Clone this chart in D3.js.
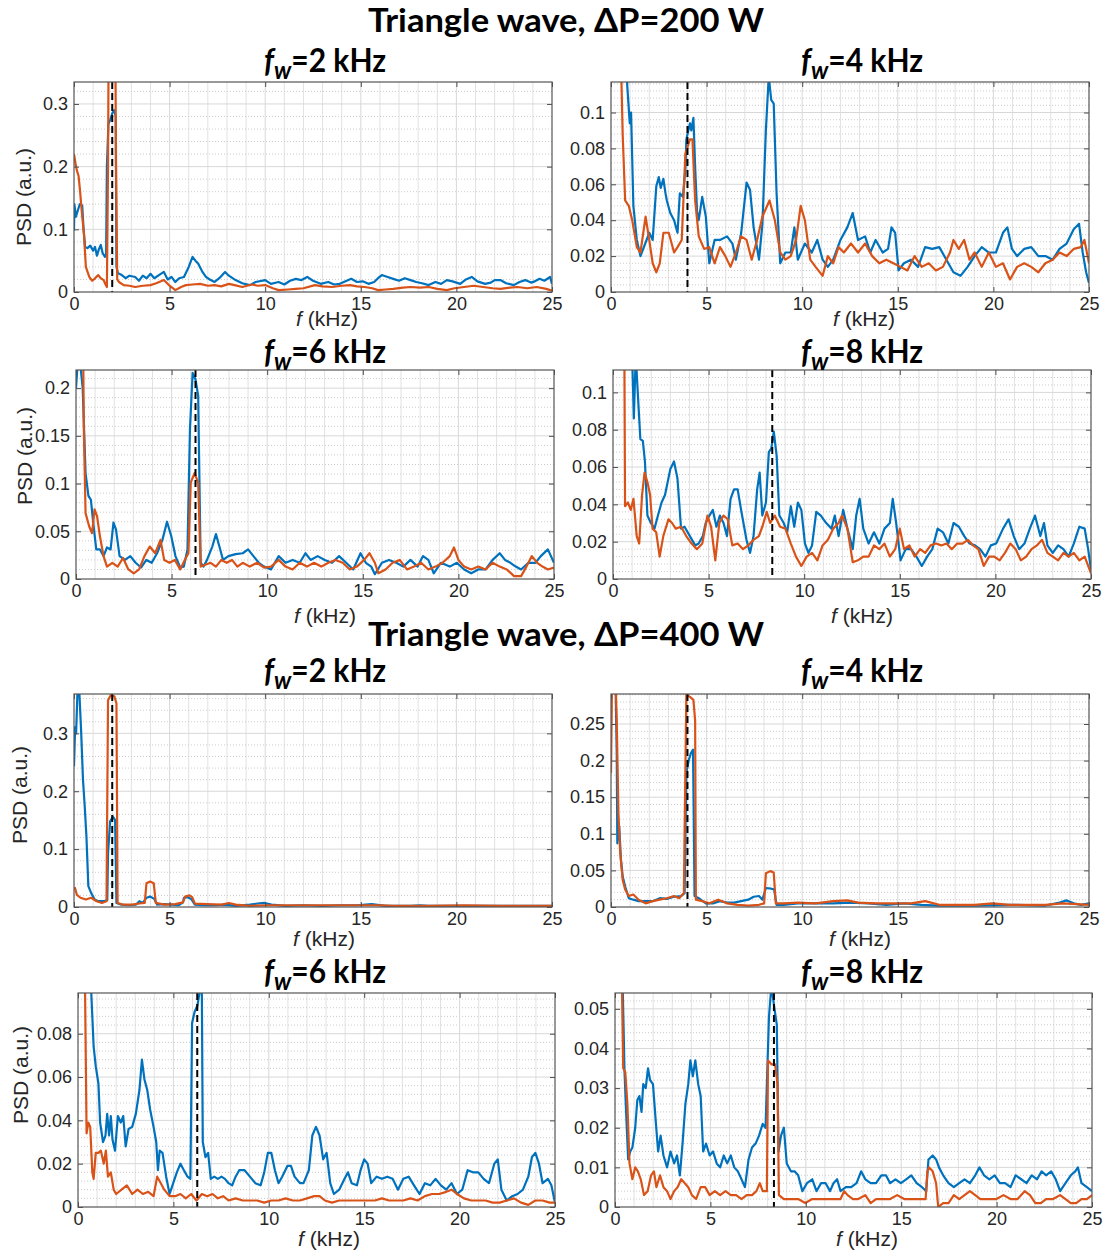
<!DOCTYPE html>
<html>
<head>
<meta charset="utf-8">
<script src="https://cdn.jsdelivr.net/npm/d3@7"></script>
<style>
  body { margin: 0; background: #fff; }
  svg { display: block; }
  .tick text { font-family: "Liberation Sans", Arial, sans-serif; font-size: 18px; fill: #262626; }
  .tick line { stroke: #4d4d4d; }
</style>
</head>
<body>
<div id="chart"></div>
<script>
// ---- data (f in kHz, PSD in a.u.) ----

var xTicks = [0, 5, 10, 15, 20, 25];
var groupTitles = ["Triangle wave, \u0394P=200 W", "Triangle wave, \u0394P=400 W"];
var fwLabels = ["2", "4", "6", "8"];
var fwMarks = [2, 4, 6.25, 8.33];

var yMax200 = [0.335, 0.117, 0.219, 0.112];
var yMax400 = [0.368, 0.291, 0.0988, 0.054];
var yTicks200 = [[0, 0.1, 0.2, 0.3], [0, 0.02, 0.04, 0.06, 0.08, 0.1], [0, 0.05, 0.1, 0.15, 0.2], [0, 0.02, 0.04, 0.06, 0.08, 0.1]];
var yTicks400 = [[0, 0.1, 0.2, 0.3], [0, 0.05, 0.1, 0.15, 0.2, 0.25], [0, 0.02, 0.04, 0.06, 0.08], [0, 0.01, 0.02, 0.03, 0.04, 0.05]];

// dP = 200 W
var blue200_2 = [[0,0.098],[0.02,0.14],[0.1,0.12],[0.2,0.13],[0.3,0.14],[0.43,0.138],[0.5,0.1],[0.58,0.072],[0.7,0.07],[0.85,0.074],[1.0,0.066],[1.1,0.072],[1.2,0.058],[1.3,0.068],[1.4,0.075],[1.5,0.062],[1.62,0.056],[1.68,0.06],[1.72,0.2],[1.8,0.268],[1.9,0.275],[2.0,0.285],[2.1,0.29],[2.18,0.28],[2.22,0.04],[2.3,0.03],[2.5,0.027],[2.7,0.022],[2.9,0.026],[3.2,0.024],[3.4,0.018],[3.6,0.026],[3.8,0.022],[4.0,0.029],[4.2,0.022],[4.5,0.028],[4.7,0.032],[4.9,0.02],[5.1,0.024],[5.3,0.016],[5.5,0.022],[5.75,0.024],[6.0,0.04],[6.2,0.056],[6.35,0.05],[6.5,0.045],[6.7,0.033],[6.9,0.024],[7.1,0.02],[7.35,0.016],[7.6,0.022],[7.9,0.032],[8.1,0.026],[8.45,0.019],[8.8,0.014],[9.2,0.011],[9.5,0.016],[10,0.019],[10.3,0.013],[10.7,0.016],[11.0,0.012],[11.3,0.018],[11.6,0.021],[11.9,0.019],[12.2,0.024],[12.5,0.018],[12.9,0.013],[13.3,0.016],[13.6,0.012],[13.9,0.013],[14.2,0.017],[14.5,0.021],[14.8,0.016],[15.1,0.017],[15.4,0.013],[15.7,0.016],[15.9,0.022],[16.1,0.027],[16.4,0.024],[16.7,0.021],[17.0,0.018],[17.3,0.022],[17.6,0.019],[17.9,0.016],[18.2,0.014],[18.55,0.011],[18.9,0.016],[19.2,0.013],[19.5,0.019],[19.8,0.017],[20.2,0.013],[20.5,0.02],[20.8,0.024],[21.1,0.017],[21.5,0.013],[21.8,0.015],[22.0,0.019],[22.3,0.019],[22.6,0.014],[23.0,0.011],[23.3,0.016],[23.6,0.019],[23.9,0.015],[24.1,0.017],[24.35,0.021],[24.6,0.018],[24.8,0.022],[24.9,0.024],[25,0.013]];
var orange200_2 = [[0,0.22],[0.08,0.205],[0.15,0.194],[0.24,0.185],[0.32,0.16],[0.4,0.13],[0.52,0.093],[0.62,0.04],[0.8,0.024],[0.95,0.018],[1.08,0.021],[1.2,0.025],[1.27,0.027],[1.4,0.022],[1.55,0.019],[1.65,0.012],[1.72,0.008],[1.78,0.2],[1.82,0.45],[2.15,0.45],[2.2,0.2],[2.26,0.02],[2.35,0.016],[2.6,0.011],[2.9,0.01],[3.2,0.008],[3.6,0.01],[4.0,0.011],[4.3,0.014],[4.7,0.019],[5.0,0.01],[5.3,0.003],[5.6,0.008],[5.85,0.011],[6.2,0.012],[6.6,0.013],[7.0,0.01],[7.35,0.011],[7.7,0.009],[8.1,0.013],[8.4,0.011],[8.8,0.008],[9.3,0.012],[9.6,0.01],[10,0.011],[10.4,0.006],[10.7,0.003],[11.2,0.004],[11.6,0.005],[12.0,0.006],[12.6,0.011],[13.0,0.009],[13.5,0.008],[14.0,0.01],[14.45,0.011],[14.8,0.009],[15.2,0.008],[15.6,0.006],[15.9,0.003],[16.3,0.004],[16.7,0.005],[17.2,0.007],[17.6,0.008],[18.1,0.007],[18.55,0.008],[19.0,0.005],[19.5,0.003],[19.9,0.006],[20.4,0.008],[20.9,0.01],[21.4,0.008],[21.9,0.006],[22.3,0.005],[22.8,0.007],[23.2,0.008],[23.7,0.006],[24.2,0.008],[24.7,0.005],[25,0.002]];

var blue200_4 = [[0,0.3],[0.5,0.2],[0.8,0.13],[0.85,0.115],[0.98,0.094],[1.05,0.1],[1.17,0.048],[1.35,0.029],[1.54,0.02],[1.72,0.025],[2.0,0.033],[2.18,0.029],[2.37,0.059],[2.5,0.064],[2.6,0.058],[2.74,0.063],[2.85,0.055],[2.92,0.051],[3.1,0.044],[3.3,0.04],[3.48,0.033],[3.6,0.055],[3.76,0.053],[3.9,0.07],[3.94,0.085],[4.13,0.094],[4.2,0.09],[4.31,0.097],[4.4,0.07],[4.5,0.045],[4.59,0.04],[4.77,0.053],[4.96,0.042],[5.14,0.016],[5.42,0.029],[5.7,0.029],[6.07,0.031],[6.35,0.027],[6.53,0.018],[6.81,0.033],[7.09,0.061],[7.27,0.057],[7.46,0.036],[7.74,0.018],[7.92,0.038],[8.1,0.09],[8.25,0.12],[8.38,0.107],[8.51,0.105],[8.66,0.055],[8.85,0.016],[9.12,0.022],[9.4,0.022],[9.59,0.036],[9.77,0.018],[10.14,0.027],[10.5,0.022],[10.79,0.029],[11.07,0.018],[11.34,0.014],[11.62,0.018],[12.0,0.029],[12.36,0.036],[12.64,0.044],[12.92,0.029],[13.29,0.031],[13.56,0.022],[13.84,0.029],[14.21,0.022],[14.49,0.024],[14.67,0.036],[14.86,0.033],[15.04,0.012],[15.32,0.016],[15.69,0.018],[16.06,0.014],[16.43,0.025],[16.8,0.024],[17.17,0.025],[17.54,0.018],[17.91,0.011],[18.28,0.009],[18.65,0.014],[19.02,0.02],[19.39,0.025],[19.76,0.022],[20.13,0.022],[20.5,0.033],[20.73,0.036],[20.97,0.024],[21.24,0.02],[21.61,0.024],[21.98,0.025],[22.35,0.02],[22.72,0.02],[23.1,0.018],[23.46,0.024],[23.83,0.027],[24.2,0.035],[24.48,0.038],[24.67,0.022],[24.85,0.011],[25,0.005]];
var orange200_4 = [[0,0.3],[0.52,0.13],[0.61,0.088],[0.74,0.051],[0.93,0.048],[1.11,0.04],[1.35,0.025],[1.54,0.022],[1.81,0.042],[2.0,0.029],[2.18,0.016],[2.37,0.011],[2.55,0.016],[2.74,0.033],[3.02,0.033],[3.3,0.022],[3.48,0.025],[3.7,0.029],[3.89,0.077],[4.13,0.085],[4.26,0.085],[4.4,0.051],[4.59,0.031],[4.87,0.024],[5.14,0.025],[5.42,0.016],[5.7,0.025],[5.98,0.02],[6.25,0.014],[6.53,0.022],[6.81,0.031],[7.09,0.029],[7.36,0.018],[7.64,0.029],[7.92,0.042],[8.29,0.051],[8.57,0.04],[8.85,0.022],[9.12,0.018],[9.4,0.02],[9.68,0.029],[9.92,0.048],[10.14,0.04],[10.42,0.018],[10.7,0.014],[11.07,0.009],[11.34,0.02],[11.62,0.016],[11.9,0.025],[12.18,0.022],[12.55,0.027],[12.92,0.022],[13.29,0.027],[13.66,0.02],[14.03,0.016],[14.4,0.018],[14.77,0.016],[15.14,0.014],[15.5,0.012],[15.88,0.02],[16.25,0.014],[16.62,0.016],[16.99,0.012],[17.36,0.014],[17.73,0.022],[17.91,0.029],[18.19,0.024],[18.47,0.029],[18.75,0.018],[19.02,0.022],[19.39,0.014],[19.76,0.022],[20.13,0.014],[20.5,0.016],[20.87,0.007],[21.24,0.014],[21.61,0.016],[21.98,0.014],[22.35,0.011],[22.72,0.016],[23.1,0.018],[23.46,0.022],[23.83,0.02],[24.2,0.024],[24.57,0.025],[24.76,0.029],[25,0.016]];

var blue200_6 = [[0,0.2],[0.1,0.23],[0.25,0.22],[0.35,0.2],[0.5,0.111],[0.65,0.087],[0.78,0.083],[0.9,0.059],[1.06,0.031],[1.25,0.031],[1.44,0.024],[1.62,0.033],[1.81,0.031],[1.96,0.059],[2.09,0.052],[2.28,0.024],[2.56,0.02],[2.84,0.024],[3.12,0.017],[3.4,0.012],[3.68,0.02],[3.96,0.017],[4.24,0.027],[4.52,0.041],[4.76,0.06],[4.98,0.045],[5.2,0.024],[5.45,0.012],[5.64,0.013],[5.83,0.031],[5.96,0.157],[6.1,0.216],[6.25,0.209],[6.39,0.192],[6.52,0.017],[6.67,0.013],[6.85,0.02],[7.13,0.034],[7.32,0.047],[7.5,0.034],[7.69,0.02],[7.97,0.024],[8.35,0.026],[8.72,0.027],[9.0,0.031],[9.28,0.024],[9.56,0.017],[9.84,0.013],[10.2,0.01],[10.6,0.024],[10.96,0.017],[11.33,0.02],[11.7,0.017],[12.0,0.027],[12.27,0.02],[12.64,0.024],[13.01,0.02],[13.39,0.017],[13.76,0.024],[14.13,0.017],[14.5,0.01],[14.88,0.027],[15.16,0.017],[15.44,0.013],[15.63,0.005],[16.0,0.017],[16.37,0.02],[16.75,0.017],[17.12,0.013],[17.49,0.02],[17.87,0.013],[18.15,0.024],[18.43,0.02],[18.71,0.006],[19.08,0.017],[19.55,0.013],[19.92,0.017],[20.3,0.01],[20.67,0.006],[21.04,0.01],[21.42,0.01],[21.79,0.02],[22.16,0.027],[22.44,0.02],[22.72,0.017],[23.0,0.013],[23.28,0.01],[23.66,0.017],[24.03,0.017],[24.31,0.024],[24.68,0.031],[25,0.017]];
var orange200_6 = [[0,0.4],[0.35,0.3],[0.41,0.157],[0.5,0.069],[0.69,0.055],[0.84,0.048],[0.97,0.073],[1.1,0.066],[1.25,0.045],[1.44,0.024],[1.62,0.013],[1.9,0.017],[2.18,0.013],[2.46,0.022],[2.74,0.01],[3.02,0.006],[3.3,0.01],[3.58,0.024],[3.86,0.034],[4.14,0.027],[4.42,0.041],[4.61,0.02],[4.89,0.017],[5.17,0.02],[5.45,0.01],[5.69,0.02],[5.88,0.027],[6.0,0.101],[6.2,0.111],[6.39,0.101],[6.52,0.013],[6.76,0.015],[7.04,0.017],[7.32,0.013],[7.6,0.02],[7.88,0.017],[8.16,0.02],[8.44,0.013],[8.72,0.017],[9.09,0.013],[9.47,0.017],[9.84,0.012],[10.2,0.013],[10.6,0.02],[10.96,0.013],[11.33,0.01],[11.7,0.017],[12.08,0.013],[12.45,0.017],[12.83,0.013],[13.2,0.017],[13.57,0.02],[13.95,0.017],[14.32,0.01],[14.69,0.013],[15.07,0.02],[15.35,0.027],[15.63,0.017],[15.81,0.006],[16.19,0.01],[16.56,0.017],[16.93,0.02],[17.31,0.01],[17.68,0.013],[18.05,0.017],[18.43,0.01],[18.8,0.013],[19.17,0.017],[19.55,0.024],[19.77,0.033],[20.0,0.02],[20.3,0.013],[20.67,0.01],[21.04,0.013],[21.42,0.01],[21.79,0.017],[22.16,0.013],[22.53,0.01],[22.91,0.003],[23.28,0.003],[23.56,0.013],[23.84,0.024],[24.12,0.017],[24.4,0.013],[24.68,0.01],[25,0.012]];

var blue200_8 = [[0,0.4],[0.9,0.2],[1.0,0.12],[1.09,0.086],[1.19,0.12],[1.3,0.099],[1.43,0.075],[1.56,0.074],[1.67,0.063],[1.8,0.034],[1.98,0.03],[2.17,0.027],[2.35,0.034],[2.54,0.041],[2.72,0.045],[3.0,0.059],[3.19,0.063],[3.37,0.054],[3.56,0.027],[3.74,0.028],[4.02,0.023],[4.3,0.018],[4.48,0.019],[4.7,0.023],[4.85,0.03],[5.04,0.034],[5.22,0.037],[5.41,0.028],[5.59,0.034],[5.78,0.03],[5.96,0.023],[6.15,0.043],[6.33,0.048],[6.52,0.048],[6.7,0.037],[6.98,0.021],[7.17,0.014],[7.35,0.023],[7.54,0.048],[7.67,0.057],[7.81,0.034],[8.0,0.041],[8.15,0.068],[8.28,0.07],[8.41,0.079],[8.56,0.066],[8.7,0.034],[8.93,0.03],[9.11,0.025],[9.3,0.039],[9.48,0.028],[9.67,0.041],[9.85,0.037],[10.04,0.019],[10.22,0.014],[10.41,0.018],[10.63,0.036],[10.87,0.034],[11.15,0.03],[11.43,0.027],[11.6,0.034],[11.8,0.023],[12.04,0.037],[12.26,0.027],[12.54,0.016],[12.72,0.034],[12.9,0.043],[13.09,0.027],[13.37,0.019],[13.65,0.025],[13.93,0.019],[14.2,0.027],[14.48,0.03],[14.63,0.043],[14.81,0.03],[15.04,0.01],[15.31,0.016],[15.59,0.016],[15.87,0.012],[16.15,0.007],[16.43,0.012],[16.7,0.016],[16.98,0.027],[17.26,0.025],[17.54,0.019],[17.81,0.03],[18.09,0.028],[18.37,0.023],[18.65,0.019],[18.93,0.018],[19.2,0.016],[19.48,0.012],[19.76,0.018],[20.04,0.019],[20.4,0.027],[20.69,0.032],[20.96,0.023],[21.24,0.016],[21.52,0.019],[21.8,0.027],[22.07,0.034],[22.35,0.023],[22.54,0.03],[22.72,0.018],[23.0,0.014],[23.28,0.018],[23.56,0.016],[23.83,0.012],[24.1,0.019],[24.39,0.028],[24.67,0.027],[24.85,0.016],[25,0.005]];
var orange200_8 = [[0,0.4],[0.56,0.2],[0.63,0.039],[0.78,0.041],[0.93,0.037],[1.07,0.043],[1.24,0.023],[1.37,0.019],[1.52,0.045],[1.65,0.057],[1.8,0.052],[1.94,0.045],[2.07,0.027],[2.26,0.025],[2.44,0.012],[2.63,0.023],[2.9,0.032],[3.09,0.03],[3.28,0.027],[3.56,0.028],[3.83,0.023],[4.11,0.019],[4.39,0.016],[4.67,0.019],[4.94,0.034],[5.13,0.028],[5.35,0.01],[5.56,0.03],[5.78,0.034],[6.0,0.032],[6.24,0.018],[6.52,0.019],[6.8,0.016],[7.07,0.018],[7.35,0.021],[7.63,0.023],[7.81,0.028],[8.04,0.036],[8.22,0.03],[8.46,0.034],[8.74,0.028],[9.02,0.027],[9.3,0.019],[9.57,0.012],[9.85,0.007],[10.13,0.012],[10.41,0.014],[10.69,0.01],[10.96,0.018],[11.24,0.021],[11.52,0.027],[11.8,0.03],[11.98,0.034],[12.26,0.027],[12.54,0.009],[12.81,0.01],[13.09,0.012],[13.37,0.012],[13.65,0.018],[13.93,0.016],[14.2,0.019],[14.48,0.012],[14.76,0.016],[15.0,0.027],[15.22,0.016],[15.5,0.018],[15.78,0.012],[16.06,0.016],[16.33,0.014],[16.61,0.018],[16.89,0.019],[17.17,0.018],[17.44,0.019],[17.72,0.016],[18.0,0.019],[18.28,0.019],[18.56,0.021],[18.83,0.018],[19.11,0.016],[19.39,0.007],[19.67,0.012],[19.94,0.012],[20.22,0.01],[20.5,0.014],[20.78,0.019],[21.06,0.016],[21.33,0.01],[21.61,0.012],[21.89,0.016],[22.17,0.018],[22.44,0.021],[22.72,0.014],[23.0,0.012],[23.28,0.01],[23.56,0.014],[23.83,0.012],[24.1,0.014],[24.39,0.01],[24.67,0.012],[25,0.003]];

// dP = 400 W
var blue400_2 = [[0,0.243],[0.06,0.311],[0.11,0.3],[0.19,0.38],[0.28,0.37],[0.37,0.306],[0.47,0.22],[0.56,0.174],[0.65,0.122],[0.75,0.036],[0.9,0.024],[1.08,0.013],[1.27,0.01],[1.55,0.01],[1.74,0.012],[1.78,0.093],[1.89,0.148],[2.04,0.156],[2.15,0.15],[2.22,0.007],[2.48,0.004],[2.86,0.003],[3.23,0.004],[3.42,0.01],[3.6,0.007],[3.79,0.016],[3.98,0.018],[4.2,0.014],[4.35,0.004],[4.73,0.005],[5.1,0.004],[5.47,0.003],[5.7,0.008],[5.75,0.016],[5.94,0.017],[6.13,0.014],[6.32,0.004],[6.78,0.003],[7.34,0.003],[7.9,0.004],[8.46,0.002],[9.2,0.004],[9.6,0.006],[9.96,0.007],[10.33,0.004],[11.08,0.002],[12.0,0.003],[12.95,0.002],[13.9,0.003],[14.8,0.003],[15.56,0.005],[16.3,0.002],[17.6,0.002],[18.1,0.003],[18.55,0.002],[20.4,0.002],[22.3,0.002],[25,0.002]];
var orange400_2 = [[0,0.03],[0.05,0.033],[0.15,0.021],[0.34,0.016],[0.62,0.013],[0.9,0.016],[1.18,0.01],[1.46,0.007],[1.7,0.01],[1.78,0.357],[1.92,0.366],[2.11,0.364],[2.22,0.352],[2.28,0.007],[2.58,0.004],[3.05,0.004],[3.42,0.006],[3.7,0.007],[3.79,0.041],[3.98,0.044],[4.17,0.041],[4.28,0.007],[4.73,0.004],[5.29,0.005],[5.7,0.008],[5.81,0.018],[6.04,0.02],[6.18,0.017],[6.32,0.006],[6.97,0.005],[7.72,0.004],[8.1,0.007],[8.46,0.004],[9.2,0.002],[10.15,0.003],[11.08,0.003],[12.0,0.003],[12.95,0.003],[14.8,0.003],[16.1,0.003],[16.7,0.002],[18.55,0.002],[20.4,0.003],[22.3,0.002],[25,0.002]];

var blue400_4 = [[0,0.4],[0.24,0.3],[0.3,0.21],[0.33,0.087],[0.43,0.11],[0.52,0.065],[0.61,0.042],[0.74,0.028],[0.93,0.012],[1.17,0.01],[1.44,0.008],[1.81,0.008],[2.18,0.008],[2.55,0.012],[2.92,0.011],[3.29,0.014],[3.66,0.015],[3.85,0.019],[3.94,0.183],[4.07,0.201],[4.18,0.21],[4.29,0.215],[4.37,0.015],[4.59,0.012],[4.96,0.005],[5.33,0.005],[5.7,0.008],[6.07,0.006],[6.44,0.006],[6.81,0.008],[7.18,0.01],[7.46,0.014],[7.74,0.015],[7.92,0.01],[8.1,0.026],[8.38,0.025],[8.53,0.024],[8.66,0.003],[9.03,0.003],[9.77,0.005],[10.7,0.005],[11.62,0.005],[12.55,0.006],[13.47,0.005],[14.4,0.003],[15.32,0.005],[16.25,0.003],[17.17,0.002],[19.02,0.002],[20.87,0.003],[22.72,0.002],[23.46,0.006],[23.83,0.009],[24.2,0.005],[24.57,0.003],[25,0.005]];
var orange400_4 = [[0,0.183],[0.06,0.32],[0.24,0.31],[0.3,0.255],[0.39,0.128],[0.48,0.074],[0.61,0.037],[0.74,0.024],[0.93,0.015],[1.17,0.017],[1.44,0.01],[1.81,0.005],[2.18,0.008],[2.55,0.01],[2.92,0.012],[3.29,0.015],[3.57,0.012],[3.81,0.019],[3.94,0.29],[4.13,0.287],[4.31,0.283],[4.4,0.255],[4.44,0.01],[4.77,0.008],[5.14,0.005],[5.61,0.01],[6.07,0.005],[6.62,0.003],[7.18,0.002],[7.74,0.003],[8.01,0.005],[8.1,0.046],[8.33,0.049],[8.51,0.047],[8.62,0.005],[9.03,0.005],[9.77,0.006],[10.7,0.005],[11.62,0.008],[12.36,0.009],[12.92,0.006],[13.84,0.005],[14.77,0.005],[15.69,0.005],[16.43,0.008],[17.17,0.003],[19.02,0.003],[19.95,0.005],[20.87,0.003],[22.72,0.003],[23.64,0.005],[25,0.003]];

var blue400_6 = [[0,0.4],[0.5,0.2],[0.69,0.1],[0.82,0.074],[0.93,0.065],[1.07,0.057],[1.16,0.039],[1.31,0.03],[1.44,0.033],[1.53,0.043],[1.63,0.033],[1.72,0.042],[1.81,0.031],[1.94,0.026],[2.09,0.042],[2.24,0.039],[2.37,0.042],[2.5,0.028],[2.65,0.036],[2.84,0.037],[3.03,0.043],[3.22,0.054],[3.35,0.068],[3.48,0.059],[3.63,0.054],[3.78,0.045],[3.96,0.037],[4.1,0.03],[4.19,0.017],[4.28,0.026],[4.43,0.025],[4.62,0.014],[4.8,0.006],[4.99,0.011],[5.18,0.016],[5.37,0.02],[5.55,0.017],[5.74,0.014],[5.89,0.013],[5.98,0.085],[6.11,0.09],[6.26,0.093],[6.39,0.1],[6.49,0.1],[6.54,0.03],[6.68,0.023],[6.82,0.025],[6.96,0.013],[7.14,0.014],[7.33,0.013],[7.52,0.014],[7.7,0.013],[7.89,0.011],[8.08,0.01],[8.26,0.014],[8.45,0.017],[8.73,0.017],[9.01,0.014],[9.29,0.011],[9.57,0.01],[9.76,0.016],[9.95,0.025],[10.13,0.025],[10.32,0.017],[10.51,0.011],[10.7,0.014],[10.98,0.019],[11.16,0.019],[11.35,0.014],[11.63,0.011],[11.82,0.011],[12.1,0.017],[12.28,0.033],[12.47,0.037],[12.66,0.033],[12.85,0.022],[13.03,0.025],[13.22,0.011],[13.41,0.006],[13.69,0.008],[13.97,0.013],[14.15,0.016],[14.34,0.011],[14.62,0.01],[14.81,0.017],[15.0,0.022],[15.18,0.02],[15.37,0.011],[15.65,0.014],[15.93,0.013],[16.21,0.014],[16.49,0.013],[16.77,0.008],[17.05,0.013],[17.33,0.014],[17.61,0.01],[17.9,0.006],[18.18,0.011],[18.46,0.01],[18.74,0.013],[19.02,0.01],[19.3,0.008],[19.58,0.011],[19.86,0.006],[20.14,0.008],[20.42,0.017],[20.7,0.016],[20.98,0.016],[21.26,0.013],[21.54,0.011],[21.82,0.02],[22.0,0.022],[22.19,0.008],[22.47,0.003],[22.76,0.005],[23.04,0.006],[23.32,0.008],[23.6,0.014],[23.79,0.023],[23.97,0.025],[24.16,0.02],[24.35,0.011],[24.63,0.013],[24.81,0.01],[25,0.002]];
var orange400_6 = [[0,0.4],[0.32,0.2],[0.37,0.1],[0.45,0.034],[0.54,0.039],[0.64,0.037],[0.75,0.016],[0.82,0.013],[0.93,0.025],[1.07,0.025],[1.2,0.026],[1.35,0.02],[1.46,0.026],[1.57,0.014],[1.72,0.016],[1.87,0.008],[2.0,0.006],[2.28,0.008],[2.56,0.01],[2.84,0.006],[3.12,0.008],[3.4,0.006],[3.68,0.007],[3.96,0.005],[4.15,0.014],[4.34,0.011],[4.52,0.008],[4.8,0.005],[5.09,0.005],[5.37,0.006],[5.65,0.004],[5.93,0.006],[6.21,0.003],[6.49,0.006],[6.77,0.005],[7.05,0.006],[7.33,0.004],[7.61,0.005],[7.89,0.003],[8.26,0.004],[8.64,0.003],[9.01,0.003],[9.39,0.003],[9.76,0.002],[10.13,0.003],[10.51,0.003],[10.88,0.004],[11.26,0.003],[11.63,0.003],[12.0,0.004],[12.38,0.005],[12.66,0.005],[12.94,0.003],[13.31,0.002],[13.69,0.003],[14.06,0.003],[14.44,0.003],[14.81,0.003],[15.18,0.003],[15.56,0.003],[15.93,0.004],[16.3,0.003],[16.68,0.003],[17.05,0.003],[17.43,0.004],[17.8,0.003],[18.18,0.005],[18.55,0.006],[18.93,0.006],[19.3,0.007],[19.58,0.008],[19.86,0.006],[20.23,0.004],[20.61,0.003],[20.98,0.003],[21.36,0.003],[21.73,0.002],[22.1,0.002],[22.47,0.003],[22.85,0.004],[23.22,0.002],[23.6,0.001],[23.97,0.003],[24.35,0.003],[24.72,0.002],[25,0.002]];

var blue400_8 = [[0,0.2],[0.38,0.1],[0.41,0.054],[0.5,0.034],[0.59,0.023],[0.69,0.012],[0.8,0.014],[0.91,0.015],[1.06,0.02],[1.17,0.027],[1.28,0.028],[1.39,0.024],[1.48,0.031],[1.61,0.03],[1.73,0.035],[1.84,0.032],[1.99,0.031],[2.13,0.022],[2.26,0.014],[2.39,0.018],[2.54,0.013],[2.73,0.01],[2.91,0.014],[3.1,0.011],[3.25,0.013],[3.4,0.008],[3.54,0.016],[3.69,0.026],[3.84,0.031],[3.95,0.037],[4.08,0.033],[4.21,0.037],[4.36,0.031],[4.49,0.028],[4.62,0.014],[4.77,0.016],[4.96,0.013],[5.14,0.014],[5.33,0.011],[5.51,0.01],[5.7,0.013],[5.88,0.011],[6.07,0.013],[6.25,0.01],[6.44,0.009],[6.63,0.007],[6.81,0.005],[7.0,0.012],[7.18,0.015],[7.37,0.016],[7.55,0.018],[7.74,0.021],[7.89,0.02],[7.96,0.031],[8.07,0.048],[8.2,0.056],[8.33,0.051],[8.48,0.046],[8.57,0.014],[8.7,0.018],[8.85,0.02],[9.0,0.011],[9.22,0.009],[9.41,0.009],[9.6,0.008],[9.82,0.004],[10.06,0.006],[10.34,0.007],[10.56,0.004],[10.8,0.006],[11.04,0.006],[11.27,0.004],[11.45,0.006],[11.64,0.007],[11.82,0.004],[12.1,0.005],[12.38,0.005],[12.66,0.006],[12.9,0.009],[13.12,0.007],[13.4,0.006],[13.68,0.006],[13.96,0.008],[14.2,0.008],[14.42,0.006],[14.7,0.007],[14.98,0.006],[15.26,0.007],[15.53,0.008],[15.81,0.006],[16.09,0.005],[16.31,0.004],[16.43,0.012],[16.65,0.013],[16.83,0.012],[16.98,0.01],[17.2,0.008],[17.48,0.006],[17.76,0.005],[18.04,0.006],[18.32,0.007],[18.6,0.006],[18.88,0.008],[19.1,0.01],[19.34,0.008],[19.62,0.007],[19.9,0.008],[20.17,0.006],[20.45,0.006],[20.73,0.005],[21.0,0.008],[21.29,0.007],[21.57,0.006],[21.84,0.008],[22.12,0.007],[22.36,0.009],[22.59,0.008],[22.86,0.009],[23.1,0.007],[23.33,0.004],[23.61,0.006],[23.89,0.008],[24.12,0.009],[24.26,0.01],[24.45,0.006],[24.73,0.005],[25,0.004]];
var orange400_8 = [[0,0.2],[0.35,0.1],[0.37,0.054],[0.43,0.035],[0.54,0.034],[0.65,0.026],[0.76,0.011],[0.91,0.007],[1.06,0.01],[1.2,0.009],[1.35,0.007],[1.52,0.003],[1.71,0.004],[1.89,0.008],[2.04,0.009],[2.17,0.005],[2.36,0.008],[2.54,0.005],[2.73,0.004],[2.91,0.002],[3.1,0.004],[3.28,0.005],[3.47,0.007],[3.66,0.006],[3.84,0.005],[4.03,0.003],[4.25,0.002],[4.49,0.005],[4.73,0.005],[4.96,0.003],[5.23,0.004],[5.51,0.003],[5.79,0.004],[6.07,0.003],[6.35,0.003],[6.63,0.002],[6.9,0.003],[7.18,0.003],[7.41,0.004],[7.59,0.006],[7.74,0.004],[7.96,0.004],[8.02,0.037],[8.2,0.036],[8.39,0.036],[8.52,0.031],[8.59,0.003],[8.85,0.002],[9.22,0.002],[9.6,0.002],[9.97,0.001],[10.34,0.002],[10.71,0.002],[11.08,0.002],[11.45,0.002],[11.82,0.002],[12.01,0.004],[12.19,0.003],[12.47,0.002],[12.75,0.002],[13.12,0.003],[13.4,0.001],[13.68,0.002],[14.05,0.002],[14.42,0.002],[14.79,0.003],[15.16,0.002],[15.53,0.002],[15.9,0.002],[16.28,0.002],[16.37,0.009],[16.46,0.01],[16.65,0.009],[16.83,0.006],[16.94,0.0],[17.2,0.001],[17.48,0.001],[17.76,0.003],[18.04,0.002],[18.32,0.003],[18.6,0.004],[18.88,0.003],[19.15,0.002],[19.43,0.002],[19.71,0.002],[19.99,0.002],[20.36,0.003],[20.73,0.002],[21.1,0.002],[21.47,0.004],[21.75,0.003],[22.03,0.001],[22.32,0.001],[22.59,0.002],[22.96,0.002],[23.33,0.003],[23.61,0.002],[23.89,0.001],[24.17,0.001],[24.45,0.002],[24.73,0.002],[25,0.003]];

var blueSeries = [blue200_2, blue200_4, blue200_6, blue200_8, blue400_2, blue400_4, blue400_6, blue400_8];
var orangeSeries = [orange200_2, orange200_4, orange200_6, orange200_8, orange400_2, orange400_4, orange400_6, orange400_8];
var yMaxAll = yMax200.concat(yMax400);
var yTicksAll = yTicks200.concat(yTicks400);

// ---- layout (pixel boxes of each axes) ----
var boxes = [
    [74, 82, 552, 292], [611, 82, 1089, 292],
    [76, 370, 554, 579], [613, 370, 1091, 579],
    [74, 694, 552, 907], [611, 694, 1089, 907],
    [78, 993, 555, 1207], [615, 993, 1092, 1207]
];
var titlePos = [[264, 72], [801, 72], [264, 363], [801, 363], [264, 682], [801, 682], [264, 983], [801, 983]];
var xLabelPos = [[327, 326], [864, 326], [325, 623], [862, 623], [324, 946], [860, 946], [329, 1246], [867, 1246]];
var yLabelPos = [[24, 197], null, [25, 456], null, [20, 795], null, [21, 1075], null];
var groupTitleY = [32, 646];

var blue = "#0072BD", orange = "#D95319";
var titleFont = "Lato, 'Open Sans', sans-serif";
var axisFont = "'Liberation Sans', Arial, sans-serif";

var svg = d3.select("#chart").append("svg")
    .attr("width", 1105)
    .attr("height", 1255);

// group titles
groupTitles.forEach(function (t, i) {
    svg.append("text")
        .attr("x", 368)
        .attr("y", groupTitleY[i])
        .attr("font-family", titleFont)
        .attr("font-weight", 700)
        .attr("font-size", 32)
        .attr("textLength", 396)
        .attr("lengthAdjust", "spacingAndGlyphs")
        .attr("fill", "#000")
        .text(t);
});

function fmt(d) {
    return String(+d.toFixed(4));
}

boxes.forEach(function (b, i) {
    var L = b[0], T = b[1], R = b[2], B = b[3];
    var yMax = yMaxAll[i];
    var yTicks = yTicksAll[i];
    var yStep = (yTicks[1] - yTicks[0]) / 5;

    var x = d3.scaleLinear().domain([0, 25]).range([L, R]);
    var y = d3.scaleLinear().domain([0, yMax]).range([B, T]);

    var g = svg.append("g");

    g.append("rect")
        .attr("x", L).attr("y", T)
        .attr("width", R - L).attr("height", B - T)
        .attr("fill", "#fff");

    // minor grid
    var xMinor = d3.range(1, 25).filter(function (v) { return v % 5 !== 0; });
    g.selectAll(".xminor").data(xMinor).enter().append("line")
        .attr("x1", function (d) { return x(d); }).attr("x2", function (d) { return x(d); })
        .attr("y1", T).attr("y2", B)
        .attr("stroke", "#e2e2e2").attr("stroke-width", 1);

    var yMinor = d3.range(yStep, yMax, yStep).filter(function (v) {
        var r = v / (yTicks[1] - yTicks[0]);
        return Math.abs(r - Math.round(r)) > 1e-6;
    });
    g.selectAll(".yminor").data(yMinor).enter().append("line")
        .attr("x1", L).attr("x2", R)
        .attr("y1", function (d) { return y(d); }).attr("y2", function (d) { return y(d); })
        .attr("stroke", "#cccccc").attr("stroke-width", 1)
        .attr("stroke-dasharray", "1,2");

    // major grid
    g.selectAll(".xmajor").data(xTicks.slice(1, -1)).enter().append("line")
        .attr("x1", function (d) { return x(d); }).attr("x2", function (d) { return x(d); })
        .attr("y1", T).attr("y2", B)
        .attr("stroke", "#d8d8d8").attr("stroke-width", 1);
    g.selectAll(".ymajor").data(yTicks.slice(1)).enter().append("line")
        .attr("x1", L).attr("x2", R)
        .attr("y1", function (d) { return y(d); }).attr("y2", function (d) { return y(d); })
        .attr("stroke", "#d8d8d8").attr("stroke-width", 1);

    // series, clipped to the axes box
    var clipId = "clip" + i;
    svg.append("clipPath").attr("id", clipId)
        .append("rect")
        .attr("x", L).attr("y", T)
        .attr("width", R - L).attr("height", B - T);

    var line = d3.line()
        .x(function (d) { return x(d[0]); })
        .y(function (d) { return y(d[1]); });

    var plot = g.append("g").attr("clip-path", "url(#" + clipId + ")");
    plot.append("path").datum(blueSeries[i])
        .attr("d", line)
        .attr("fill", "none").attr("stroke", blue)
        .attr("stroke-width", 2.2).attr("stroke-linejoin", "round");
    plot.append("path").datum(orangeSeries[i])
        .attr("d", line)
        .attr("fill", "none").attr("stroke", orange)
        .attr("stroke-width", 2.2).attr("stroke-linejoin", "round");

    // dashed line at the wave frequency
    var fw = fwMarks[i % 4];
    plot.append("line")
        .attr("x1", x(fw)).attr("x2", x(fw))
        .attr("y1", T).attr("y2", B)
        .attr("stroke", "#000").attr("stroke-width", 2)
        .attr("stroke-dasharray", "7,4");

    // axes (ticks point inwards, box on)
    var xAxis = d3.axisBottom(x).tickValues(xTicks).tickFormat(fmt)
        .tickSizeInner(-5).tickSizeOuter(0).tickPadding(5);
    var yAxis = d3.axisLeft(y).tickValues(yTicks).tickFormat(fmt)
        .tickSizeInner(-5).tickSizeOuter(0).tickPadding(6);

    var gx = g.append("g").attr("transform", "translate(0," + B + ")").call(xAxis);
    var gy = g.append("g").attr("transform", "translate(" + L + ",0)").call(yAxis);
    var gt = g.append("g").attr("transform", "translate(0," + T + ")")
        .call(d3.axisTop(x).tickValues(xTicks).tickFormat("").tickSizeInner(-5).tickSizeOuter(0));
    var gr = g.append("g").attr("transform", "translate(" + R + ",0)")
        .call(d3.axisRight(y).tickValues(yTicks).tickFormat("").tickSizeInner(-5).tickSizeOuter(0));
    [gx, gy, gt, gr].forEach(function (a) { a.select(".domain").remove(); });

    g.append("rect")
        .attr("x", L).attr("y", T)
        .attr("width", R - L).attr("height", B - T)
        .attr("fill", "none").attr("stroke", "#555").attr("stroke-width", 1.2);

    // panel title  f_w=N kHz
    var tt = svg.append("text")
        .attr("x", titlePos[i][0])
        .attr("y", titlePos[i][1])
        .attr("font-family", titleFont)
        .attr("font-weight", 700)
        .attr("font-size", 32)
        .attr("textLength", 122)
        .attr("lengthAdjust", "spacingAndGlyphs")
        .attr("fill", "#000");
    tt.append("tspan").attr("font-style", "italic").text("f");
    tt.append("tspan").attr("font-style", "italic").attr("font-size", 25).attr("dy", 7).text("w");
    tt.append("tspan").attr("dy", -7).text("=" + fwLabels[i % 4] + " kHz");

    // x label
    var xl = svg.append("text")
        .attr("x", xLabelPos[i][0])
        .attr("y", xLabelPos[i][1])
        .attr("text-anchor", "middle")
        .attr("font-family", axisFont)
        .attr("font-size", 21)
        .attr("fill", "#262626");
    xl.append("tspan").attr("font-style", "italic").text("f");
    xl.append("tspan").text(" (kHz)");

    // y label
    if (yLabelPos[i]) {
        svg.append("text")
            .attr("transform", "translate(" + yLabelPos[i][0] + "," + yLabelPos[i][1] + ") rotate(-90)")
            .attr("text-anchor", "middle")
            .attr("dy", "0.35em")
            .attr("font-family", axisFont)
            .attr("font-size", 21)
            .attr("fill", "#262626")
            .text("PSD (a.u.)");
    }
});
</script>
</body>
</html>
